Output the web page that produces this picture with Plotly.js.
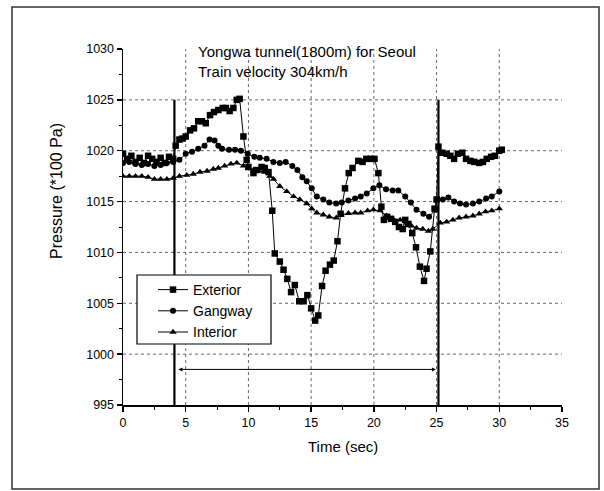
<!DOCTYPE html>
<html>
<head>
<meta charset="utf-8">
<script src="https://cdn.plot.ly/plotly-3.0.1.min.js"></script>
<style>html,body{margin:0;padding:0;background:#fff;}#chart{width:604px;height:491px;}</style>
</head>
<body>
<div id="chart"></div>
<script>
// ---- data ----
const exteriorTime = [0.0,0.33,0.67,1.0,1.33,1.67,2.0,2.33,2.67,3.0,3.33,3.67,4.0,4.2,4.5,4.75,5.0,5.35,5.66,6.0,6.3,6.6,6.94,7.25,7.6,7.95,8.2,8.5,8.8,9.07,9.3,9.6,9.86,10.0,10.4,10.65,11.05,11.3,11.6,11.9,12.1,12.5,12.8,13.1,13.4,13.7,14.05,14.4,14.7,15.0,15.32,15.57,15.87,16.15,16.5,16.8,17.1,17.35,17.7,18.0,18.3,18.76,19.1,19.4,19.75,20.05,20.36,20.6,20.8,21.06,21.37,21.7,22.0,22.3,22.5,22.75,23.06,23.36,23.67,24.0,24.2,24.5,24.84,25.0,25.15,25.45,25.8,26.1,26.4,26.7,27.05,27.35,27.7,28.0,28.4,28.7,29.0,29.35,29.65,30.0,30.2];
const exteriorPressure = [1019.7,1019.2,1019.5,1018.9,1019.3,1018.8,1019.5,1019.2,1018.9,1019.3,1018.8,1019.4,1019.2,1020.5,1021.1,1021.2,1021.4,1022.0,1022.2,1022.9,1022.9,1022.7,1023.5,1023.8,1024.0,1024.2,1024.2,1023.9,1024.2,1025.0,1025.1,1021.4,1019.1,1018.4,1017.8,1018.1,1018.4,1018.3,1017.9,1014.1,1009.9,1009.1,1008.3,1007.4,1006.1,1006.8,1005.2,1005.2,1005.8,1004.5,1003.3,1003.8,1006.7,1008.2,1008.8,1009.2,1011.1,1013.8,1016.3,1017.8,1018.3,1019.0,1018.9,1019.2,1019.2,1019.2,1017.8,1014.5,1013.2,1013.5,1013.3,1013.0,1012.5,1012.3,1013.2,1012.8,1011.9,1010.5,1008.6,1007.2,1008.4,1010.1,1014.3,1015.2,1020.4,1019.8,1019.7,1019.5,1019.2,1019.7,1019.8,1019.2,1019.0,1018.9,1018.8,1018.9,1019.2,1019.4,1019.5,1020.0,1020.1];

const gangwayTime = [0,0.5,1.0,1.5,2.0,2.5,3.0,3.5,4.0,4.5,5.0,5.5,6.0,6.5,6.9,7.3,7.6,7.9,8.45,8.93,9.4,9.94,10.47,10.9,11.45,11.99,12.5,12.97,13.5,13.9,14.3,14.65,15.05,15.45,15.97,16.45,16.99,17.44,17.97,18.5,18.95,19.43,19.96,20.44,20.97,21.5,21.95,22.5,22.95,23.4,23.95,24.4,24.9,25.06,25.5,25.94,26.4,26.87,27.35,27.9,28.4,28.95,29.4,30.0];
const gangwayPressure = [1018.8,1018.9,1018.7,1018.6,1018.7,1018.5,1018.6,1018.8,1018.9,1019.1,1019.7,1019.9,1020.2,1020.5,1021.1,1021.0,1020.5,1020.2,1020.1,1020.1,1020.0,1019.7,1019.4,1019.3,1019.2,1018.9,1018.8,1018.9,1018.5,1018.1,1017.4,1017.0,1016.3,1015.5,1015.2,1014.9,1014.8,1014.9,1015.1,1015.3,1015.5,1015.8,1016.3,1016.6,1016.2,1016.1,1016.1,1015.5,1014.9,1014.2,1013.8,1013.5,1014.2,1015.2,1015.2,1015.4,1015.0,1014.8,1014.7,1014.8,1015.0,1015.3,1015.5,1016.0];

const interiorTime = [0,0.5,1.0,1.5,2.0,2.5,3.0,3.5,4.0,4.5,5.08,5.6,6.14,6.7,7.2,7.6,8.1,8.6,9.07,9.6,10.0,10.4,10.8,11.3,11.7,12.0,12.5,13.05,13.6,14.1,14.65,15.05,15.45,15.97,16.45,17.0,17.4,17.97,18.5,18.95,19.5,19.96,20.5,21.0,21.5,22.1,22.6,23.0,23.4,23.9,24.35,24.7,25.3,25.8,26.3,26.8,27.35,27.9,28.4,28.9,29.4,30.0];
const interiorPressure = [1017.5,1017.5,1017.5,1017.5,1017.4,1017.2,1017.2,1017.2,1017.3,1017.5,1017.6,1017.7,1017.9,1018.0,1018.2,1018.3,1018.5,1018.7,1018.8,1018.5,1018.3,1018.1,1018.0,1017.9,1017.5,1017.2,1016.5,1016.0,1015.5,1015.2,1014.8,1014.3,1013.9,1013.7,1013.5,1013.4,1013.7,1013.85,1013.9,1013.9,1014.1,1014.2,1014.1,1013.6,1013.3,1013.2,1012.9,1012.6,1012.4,1012.3,1012.1,1012.3,1012.9,1013.0,1013.2,1013.4,1013.5,1013.6,1013.8,1014.0,1014.1,1014.3];

const seriesNames = ['Exterior','Gangway','Interior'];
const tunnelTimes = [4.1, 25.15];        // tunnel entry / exit markers
const tunnelLineRange = [995, 1025];
const arrowLevel = 998.5;
const arrowStart = 4.3, arrowEnd = 24.95;
const xGridVals = [5,10,15,20,25,30];
const yGridVals = [1000,1005,1010,1015,1020,1025];
const titleLines = ['Yongwa tunnel(1800m) for Seoul','Train velocity 304km/h'];

// ---- layout helpers ----
const W = 604, H = 491;
const M = {l:123, r:42, t:49, b:86};
const PW = W - M.l - M.r, PH = H - M.t - M.b;
const px = x => (x - M.l) / PW;
const py = y => (H - M.b - y) / PH;
const FONT = 'Liberation Sans, Arial, sans-serif';

const traces = [];
const symbols = ['square','circle','triangle-up'];
const sizes = [6.5,6,6.5];
[[exteriorTime,exteriorPressure],[gangwayTime,gangwayPressure],[interiorTime,interiorPressure]].forEach((d,i)=>{
  traces.push({x:d[0], y:d[1], name:seriesNames[i], type:'scatter', mode:'lines+markers',
    line:{color:'#000', width:1}, marker:{symbol:symbols[i], size:sizes[i], color:'#000'}});
});
tunnelTimes.forEach(t=>{
  traces.push({x:[t,t], y:tunnelLineRange, type:'scatter', mode:'lines', showlegend:false,
    hoverinfo:'skip', line:{color:'#000', width:2.2}});
});

const shapes = [];
xGridVals.forEach(v=>shapes.push({type:'line', xref:'x', yref:'paper', x0:v, x1:v, y0:0, y1:1, layer:'below', line:{color:'#666', width:1, dash:'dot'}}));
yGridVals.forEach(v=>shapes.push({type:'line', xref:'paper', yref:'y', x0:0, x1:1, y0:v, y1:v, layer:'below', line:{color:'#666', width:1, dash:'dot'}}));
// legend box (opaque, covers the tunnel line behind it)
shapes.push({type:'rect', xref:'paper', yref:'paper', x0:px(137), x1:px(271), y0:py(344), y1:py(275), line:{color:'#000', width:1.2}, fillcolor:'#fff', layer:'above'});
// outer frame
shapes.push({type:'rect', xref:'paper', yref:'paper', x0:px(12), x1:px(599), y0:py(489), y1:py(7), line:{color:'#333', width:1.5}});

const annotations = [
  {xref:'paper', yref:'paper', x:px(196), y:py(51), xanchor:'left', yanchor:'middle', text:titleLines[0], showarrow:false, font:{family:FONT, size:15, color:'#000'}},
  {xref:'paper', yref:'paper', x:px(196), y:py(71), xanchor:'left', yanchor:'middle', text:titleLines[1], showarrow:false, font:{family:FONT, size:15, color:'#000'}},
  {xref:'paper', yref:'paper', x:px(343), y:py(446), xanchor:'center', yanchor:'middle', text:'Time (sec)', showarrow:false, font:{family:FONT, size:15, color:'#000'}},
  {xref:'paper', yref:'paper', x:px(56), y:py(191), xanchor:'center', yanchor:'middle', text:'Pressure (*100 Pa)', textangle:-90, showarrow:false, font:{family:FONT, size:16, color:'#000'}},
  {xref:'x', yref:'y', axref:'x', ayref:'y', x:arrowEnd, y:arrowLevel, ax:arrowStart, ay:arrowLevel, text:'', showarrow:true, arrowhead:2, arrowside:'end+start', arrowsize:0.8, arrowwidth:1, arrowcolor:'#000'}
];

const axisCommon = {showgrid:false, zeroline:false, showline:true, linecolor:'#000', linewidth:1.5,
  ticks:'outside', ticklen:5, tickwidth:1.5, tickcolor:'#000',
  tickfont:{family:FONT, size:12.5, color:'#000'}, fixedrange:true};

const layout = {
  width:W, height:H, margin:M, paper_bgcolor:'#fff', plot_bgcolor:'rgba(0,0,0,0)',
  showlegend:true,
  legend:{x:px(153), y:py(274), xanchor:'left', yanchor:'top', bgcolor:'rgba(0,0,0,0)', borderwidth:0,
    font:{family:FONT, size:14, color:'#000'}, tracegroupgap:0, itemwidth:30},
  xaxis:Object.assign({}, axisCommon, {range:[0,35], tickvals:[0,5,10,15,20,25,30,35], minor:{tickvals:[2.5,7.5,12.5,17.5,22.5,27.5,32.5], ticks:'outside', ticklen:3, tickwidth:1, tickcolor:'#000'}}),
  yaxis:Object.assign({}, axisCommon, {range:[995,1030], tickvals:[995,1000,1005,1010,1015,1020,1025,1030], minor:{tickvals:[997.5,1002.5,1007.5,1012.5,1017.5,1022.5,1027.5], ticks:'outside', ticklen:3, tickwidth:1, tickcolor:'#000'}}),
  shapes:shapes, annotations:annotations
};

Plotly.newPlot('chart', traces, layout, {displayModeBar:false, staticPlot:true});
</script>
</body>
</html>
